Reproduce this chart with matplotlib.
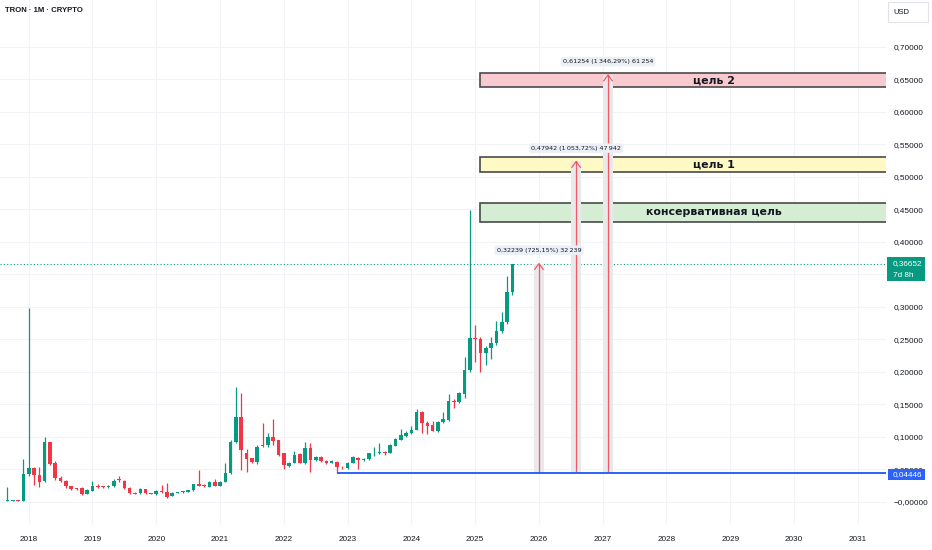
import numpy as np
import matplotlib
matplotlib.use("Agg")
import matplotlib.pyplot as plt
from matplotlib.patches import Rectangle
import matplotlib.transforms as mtransforms

# ---------------- data (monthly TRX/USD, Sep 2017 .. Aug 2025) ----------------
start_index = -4  # Sep 2017, with Jan 2018 = 0
opens = [0.0020, 0.0020, 0.0022, 0.0019,
         0.0430, 0.0528, 0.0415, 0.0328, 0.0918, 0.0595, 0.0374, 0.0323, 0.0246, 0.0210, 0.0220, 0.0123,
         0.0174, 0.0246, 0.0236, 0.0230, 0.0246, 0.0340, 0.0328, 0.0221, 0.0138, 0.0133, 0.0195, 0.0133,
         0.0118, 0.0169, 0.0149, 0.0092, 0.0144, 0.0150, 0.0159, 0.0180, 0.0277, 0.0256, 0.0236, 0.0313,
         0.0251, 0.0303, 0.0441, 0.0928, 0.1310, 0.0760, 0.0672, 0.0620, 0.0877, 0.0877, 0.0995, 0.0954,
         0.0759, 0.0559, 0.0605, 0.0738, 0.0605, 0.0836, 0.0646, 0.0697, 0.0631, 0.0605, 0.0620, 0.0540,
         0.0528, 0.0605, 0.0672, 0.0646, 0.0656, 0.0749, 0.0759, 0.0769, 0.0759, 0.0867, 0.0954, 0.1021,
         0.1056, 0.1108, 0.1390, 0.1221, 0.1185, 0.1097, 0.1236, 0.1262, 0.1559, 0.1544, 0.1662, 0.2030,
         0.2525, 0.2510, 0.2297, 0.2364, 0.2440, 0.2636, 0.2774, 0.3225]
highs = [0.0226, 0.0028, 0.0026, 0.0656,
         0.2980, 0.0544, 0.0544, 0.0995, 0.0930, 0.0630, 0.0400, 0.0340, 0.0250, 0.0220, 0.0230, 0.0200,
         0.0328, 0.0270, 0.0250, 0.0260, 0.0349, 0.0395, 0.0340, 0.0230, 0.0160, 0.0210, 0.0200, 0.0136,
         0.0180, 0.0262, 0.0287, 0.0150, 0.0160, 0.0165, 0.0190, 0.0280, 0.0490, 0.0270, 0.0330, 0.0360,
         0.0330, 0.0605, 0.0950, 0.1774, 0.1670, 0.0810, 0.0680, 0.0877, 0.1220, 0.1060, 0.1270, 0.0960,
         0.0760, 0.0620, 0.0785, 0.0750, 0.0928, 0.0903, 0.0710, 0.0700, 0.0640, 0.0650, 0.0631, 0.0560,
         0.0620, 0.0700, 0.0690, 0.0680, 0.0760, 0.0851, 0.0903, 0.0780, 0.0890, 0.0980, 0.1118, 0.1090,
         0.1169, 0.1426, 0.1400, 0.1240, 0.1251, 0.1240, 0.1390, 0.1662, 0.1580, 0.1697, 0.2226, 0.4490,
         0.2723, 0.2544, 0.2400, 0.2544, 0.2790, 0.2928, 0.3477, 0.3665]
lows = [0.0012, 0.0016, 0.0017, 0.0015,
        0.0400, 0.0260, 0.0236, 0.0310, 0.0570, 0.0340, 0.0310, 0.0220, 0.0180, 0.0190, 0.0115, 0.0120,
        0.0170, 0.0220, 0.0210, 0.0220, 0.0230, 0.0300, 0.0205, 0.0125, 0.0125, 0.0125, 0.0125, 0.0122,
        0.0115, 0.0145, 0.0068, 0.0088, 0.0135, 0.0145, 0.0150, 0.0175, 0.0240, 0.0235, 0.0230, 0.0240,
        0.0240, 0.0300, 0.0430, 0.0900, 0.0492, 0.0467, 0.0600, 0.0580, 0.0850, 0.0850, 0.0877, 0.0700,
        0.0503, 0.0540, 0.0600, 0.0600, 0.0590, 0.0467, 0.0630, 0.0620, 0.0590, 0.0595, 0.0445, 0.0510,
        0.0500, 0.0600, 0.0500, 0.0630, 0.0650, 0.0700, 0.0740, 0.0720, 0.0750, 0.0860, 0.0950, 0.1000,
        0.1040, 0.1100, 0.1067, 0.1046, 0.1090, 0.1080, 0.1220, 0.1250, 0.1450, 0.1530, 0.1595, 0.2000,
        0.2160, 0.2005, 0.2108, 0.2195, 0.2420, 0.2600, 0.2738, 0.3180]
closes = [0.0024, 0.0022, 0.0019, 0.0430,
          0.0528, 0.0415, 0.0313, 0.0918, 0.0585, 0.0364, 0.0323, 0.0246, 0.0195, 0.0205, 0.0123, 0.0185,
          0.0246, 0.0236, 0.0230, 0.0246, 0.0328, 0.0335, 0.0215, 0.0133, 0.0130, 0.0205, 0.0133, 0.0128,
          0.0169, 0.0149, 0.0080, 0.0144, 0.0150, 0.0159, 0.0185, 0.0277, 0.0246, 0.0250, 0.0308, 0.0251,
          0.0303, 0.0441, 0.0928, 0.1310, 0.0800, 0.0662, 0.0620, 0.0841, 0.0867, 0.0995, 0.0938, 0.0723,
          0.0569, 0.0605, 0.0723, 0.0605, 0.0836, 0.0646, 0.0697, 0.0631, 0.0605, 0.0631, 0.0533, 0.0533,
          0.0605, 0.0687, 0.0646, 0.0656, 0.0749, 0.0759, 0.0769, 0.0749, 0.0877, 0.0964, 0.1031, 0.1067,
          0.1108, 0.1390, 0.1221, 0.1174, 0.1097, 0.1236, 0.1272, 0.1559, 0.1533, 0.1672, 0.2030, 0.2525,
          0.2500, 0.2297, 0.2364, 0.2440, 0.2636, 0.2774, 0.3225, 0.3665]

years = ["2018", "2019", "2020", "2021", "2022", "2023", "2024",
         "2025", "2026", "2027", "2028", "2029", "2030", "2031"]
price_ticks = [0.00, 0.05, 0.10, 0.15, 0.20, 0.25, 0.30, 0.35, 0.40, 0.45, 0.50, 0.55, 0.60, 0.65, 0.70]
price_tick_labels = ["\u22120,00000", "0,05000", "0,10000", "0,15000", "0,20000", "0,25000", "0,30000",
                     "", "0,40000", "0,45000", "0,50000", "0,55000", "0,60000", "0,65000", "0,70000"]

current_price = 0.36652
current_label = "0,36652"
countdown_label = "7d 8h"
base_level = 0.04446
base_label = "0,04446"
base_start = 58  # Nov 2022

target_names = ["консервативная цель", "цель 1", "цель 2"]
target_low = [0.431, 0.507, 0.638]
target_high = [0.460, 0.530, 0.660]
target_colors = ["#d5edd3", "#fff9c6", "#f8c9ce"]
target_start = 85

arrow_x = [96, 103, 109]
arrow_gain = [0.32239, 0.47942, 0.61254]
arrow_labels = ["0,32239 (725,15%) 32\u2009239", "0,47942 (1\u2009053,72%) 47\u2009942",
                "0,61254 (1\u2009346,29%) 61\u2009254"]

# ---------------- figure ----------------
W, H = 932, 550
UIFONT = ["Liberation Sans", "DejaVu Sans"]
fig = plt.figure(figsize=(W / 100, H / 100), dpi=100)
fig.patch.set_facecolor("white")
ax = fig.add_axes([0, 25 / H, 886 / W, 525 / H])
ax.set_facecolor("white")

ax.set_xlim(-5.4, 161.3)
ax.set_ylim(-0.0354, 0.7723)

GREEN = "#089981"
RED = "#f23645"
TXT = "#131722"

# grid
ax.set_yticks(price_ticks)
ax.set_yticklabels(price_tick_labels)
ax.set_xticks(np.arange(len(years)) * 12)
ax.set_xticklabels(years)
ax.grid(True, color="#f2f3f6", lw=0.8, zorder=0)
ax.set_axisbelow(True)
for s in ax.spines.values():
    s.set_visible(False)
ax.yaxis.tick_right()
ax.tick_params(axis="y", length=0, pad=5.8, labelsize=5.9, labelcolor=TXT)
ax.tick_params(axis="x", length=0, pad=8, labelsize=5.9, labelcolor=TXT)
for lab in ax.get_yticklabels() + ax.get_xticklabels():
    lab.set_family(UIFONT)

# candles
n = len(opens)
xs = np.arange(n) + start_index
o = np.array(opens); h = np.array(highs); l = np.array(lows); c = np.array(closes)
up = c >= o
cols = np.where(up, GREEN, RED)
ax.vlines(xs, l, h, colors=cols, lw=0.9, zorder=3)
bottoms = np.minimum(o, c)
heights = np.maximum(np.abs(c - o), 0.0012)
ax.bar(xs, heights, bottom=bottoms, width=0.68, color=cols, zorder=4, linewidth=0)

# current price dotted line
ax.axhline(current_price, color=GREEN, lw=0.8, ls=(0, (1, 2)), zorder=2)

# base line
ax.hlines(base_level, base_start, 200, color="#2962ff", lw=1.4, zorder=5)

# target boxes
for name, lo, hi, col in zip(target_names, target_low, target_high, target_colors):
    ax.add_patch(Rectangle((target_start, lo), 300, hi - lo, facecolor=col,
                           edgecolor="#4a4a4a", lw=1.2, zorder=2))
    ax.text(129, (lo + hi) / 2, name, ha="center", va="center", fontsize=7.9,
            fontweight="bold", color=TXT, zorder=6)

# price range arrows
for xa, g, lab in zip(arrow_x, arrow_gain, arrow_labels):
    top = base_level + g
    ax.bar(xa, g, bottom=base_level, width=1.9, color="#e9e9ec", zorder=3, linewidth=0)
    ax.vlines(xa, base_level, top, color=RED, lw=0.9, alpha=0.8, zorder=4)
    ax.plot([xa - 0.8, xa, xa + 0.8], [top - 0.009, top, top - 0.009],
            color=RED, lw=0.9, alpha=0.8, zorder=4)
    ax.text(xa, top + 0.0205, lab, ha="center", va="center", fontsize=4.6, color=TXT,
            zorder=7, bbox=dict(boxstyle="round,pad=0.35", fc="#eceff6", ec="none"))

# right-side price labels
blend = mtransforms.blended_transform_factory(fig.transFigure, ax.transData)
r1 = Rectangle((887 / W, current_price - 0.0265), 38 / W, 0.0372, transform=blend,
               facecolor=GREEN, edgecolor="none", zorder=10)
fig.add_artist(r1)
fig.text(893 / W, current_price + 0.0005, current_label, transform=blend, color="white",
         fontsize=5.9, va="center", ha="left", zorder=11, family=UIFONT)
fig.text(893 / W, current_price - 0.0175, countdown_label, transform=blend, color="white",
         fontsize=5.9, va="center", ha="left", zorder=11, family=UIFONT)

r2 = Rectangle((888 / W, base_level - 0.0110), 37 / W, 0.0170, transform=blend,
               facecolor="#2962ff", edgecolor="none", zorder=10)
fig.add_artist(r2)
fig.text(893 / W, base_level - 0.0025, base_label, transform=blend, color="white",
         fontsize=5.9, va="center", ha="left", zorder=11, family=UIFONT)

# USD box
fig.add_artist(Rectangle((888 / W, 1 - 22 / H), 40 / W, 20 / H, transform=fig.transFigure,
                         facecolor="white", edgecolor="#e0e3eb", lw=0.8, zorder=10))
fig.text(893 / W, 1 - 12 / H, "USD", fontsize=5.5, color=TXT, va="center", ha="left",
         zorder=11, family=UIFONT)

# title
fig.text(5 / W, 1 - 11 / H, "TRON \u00b7 1M \u00b7 CRYPTO", fontsize=5.6, fontweight="bold",
         color=TXT, va="center", ha="left", zorder=11, family=UIFONT)

fig.savefig("out.png", dpi=100, facecolor="white")
